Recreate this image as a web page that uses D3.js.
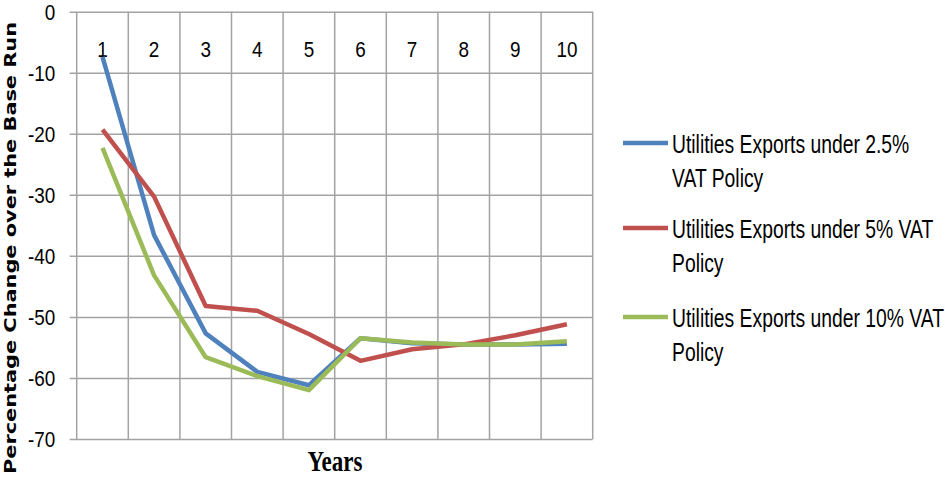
<!DOCTYPE html>
<html>
<head>
<meta charset="utf-8">
<script src="https://cdn.jsdelivr.net/npm/d3@7"></script>
<style>
  body { margin: 0; background: #fff; }
  .lbl { font-family: "Liberation Sans", Arial, sans-serif; fill: #000; }
</style>
</head>
<body>
<div id="chart"></div>
<script>
// data
var years = ["1", "2", "3", "4", "5", "6", "7", "8", "9", "10"];
var yTicks = [0, -10, -20, -30, -40, -50, -60, -70];
var seriesNames = [
  ["Utilities Exports under 2.5%", "VAT Policy"],
  ["Utilities Exports under 5% VAT", "Policy"],
  ["Utilities Exports under 10% VAT", "Policy"]
];
var vat25 = [-7.4, -36.6, -52.7, -59.0, -61.2, -53.5, -54.3, -54.5, -54.5, -54.4];
var vat5  = [-19.3, -30.3, -48.2, -49.0, -52.8, -57.2, -55.3, -54.5, -53.0, -51.2];
var vat10 = [-22.3, -43.2, -56.6, -59.7, -62.0, -53.5, -54.2, -54.5, -54.5, -54.0];
var colors = ["#4F81BD", "#C0504D", "#9BBB59"];

var series = [vat25, vat5, vat10];

var svg_width = 945, svg_height = 477;
var svg = d3.select("#chart").append("svg")
  .attr("width", svg_width)
  .attr("height", svg_height);

var plot = {left: 76.7, right: 592.7, top: 11.7, bottom: 439};

var x = d3.scaleBand()
  .domain(years)
  .range([plot.left, plot.right])
  .paddingInner(0).paddingOuter(0);

var y = d3.scaleLinear()
  .domain([-70, 0])
  .range([plot.bottom, plot.top]);

var grid = "#a3a3a3";

// horizontal gridlines + y ticks
svg.append("g")
  .attr("transform", "translate(" + plot.left + ",0)")
  .call(d3.axisLeft(y).tickValues(yTicks)
    .tickSize(-(plot.right - plot.left))
    .tickFormat(function(d) { return String(d); }))
  .call(function(g) {
    g.select(".domain").remove();
    g.selectAll(".tick line").attr("stroke", grid).attr("stroke-width", 1.5)
      .attr("x1", -7);
    g.selectAll(".tick text")
      .attr("class", "lbl")
      .attr("font-size", 21)
      .attr("x", 0)
      .attr("dy", "0.36em")
      .attr("text-anchor", "end")
      .attr("transform", "translate(-21.5,0) scale(0.9,1.02)");
  });

// vertical gridlines at category boundaries
var bounds = years.map(function(d) { return x(d); }).concat([x.range()[1]]);
svg.append("g").selectAll("line")
  .data(bounds)
  .enter().append("line")
  .attr("x1", function(d) { return d; })
  .attr("x2", function(d) { return d; })
  .attr("y1", plot.top)
  .attr("y2", plot.bottom)
  .attr("stroke", grid)
  .attr("stroke-width", 1.5);

// category labels (axis crosses at 0, top of the plot)
svg.append("g").selectAll("text")
  .data(years)
  .enter().append("text")
  .attr("class", "lbl")
  .attr("font-size", 21)
  .attr("text-anchor", "middle")
  .attr("transform", function(d) {
    return "translate(" + (x(d) + x.bandwidth() / 2) + ",57) scale(0.9,1.02)";
  })
  .text(function(d) { return d; });

// lines
var line = d3.line()
  .x(function(d, i) { return x(years[i]) + x.bandwidth() / 2; })
  .y(function(d) { return y(d); });

svg.append("g").selectAll("path")
  .data(series)
  .enter().append("path")
  .attr("d", line)
  .attr("fill", "none")
  .attr("stroke", function(d, i) { return colors[i]; })
  .attr("stroke-width", 4.5)
  .attr("stroke-linejoin", "round");

// y-axis title
svg.append("text")
  .attr("transform", "translate(16,248) rotate(-90)")
  .attr("text-anchor", "middle")
  .attr("font-family", "DejaVu Sans, sans-serif")
  .attr("font-weight", "bold")
  .attr("font-size", 16.5)
  .attr("textLength", 452)
  .attr("lengthAdjust", "spacingAndGlyphs")
  .attr("fill", "#000")
  .text("Percentage Change over the Base Run");

// x-axis title
svg.append("text")
  .attr("transform", "translate(335,471) scale(1,1.25)")
  .attr("text-anchor", "middle")
  .attr("font-family", "Liberation Serif, serif")
  .attr("font-weight", "bold")
  .attr("font-size", 23)
  .attr("fill", "#000")
  .text("Years");

// legend
var legendY = [143, 228, 317];
var legend = svg.append("g").selectAll("g")
  .data(seriesNames)
  .enter().append("g")
  .attr("transform", function(d, i) { return "translate(623," + legendY[i] + ")"; });

legend.append("line")
  .attr("x1", 0).attr("x2", 45)
  .attr("y1", 0).attr("y2", 0)
  .attr("stroke", function(d, i) { return colors[i]; })
  .attr("stroke-width", 4.5);

legend.each(function(d) {
  var g = d3.select(this);
  d.forEach(function(t, j) {
    g.append("text")
      .attr("class", "lbl")
      .attr("font-size", 23)
      .attr("transform", "translate(49," + (10 + j * 34) + ") scale(0.84,1.15)")
      .text(t);
  });
});
</script>
</body>
</html>
